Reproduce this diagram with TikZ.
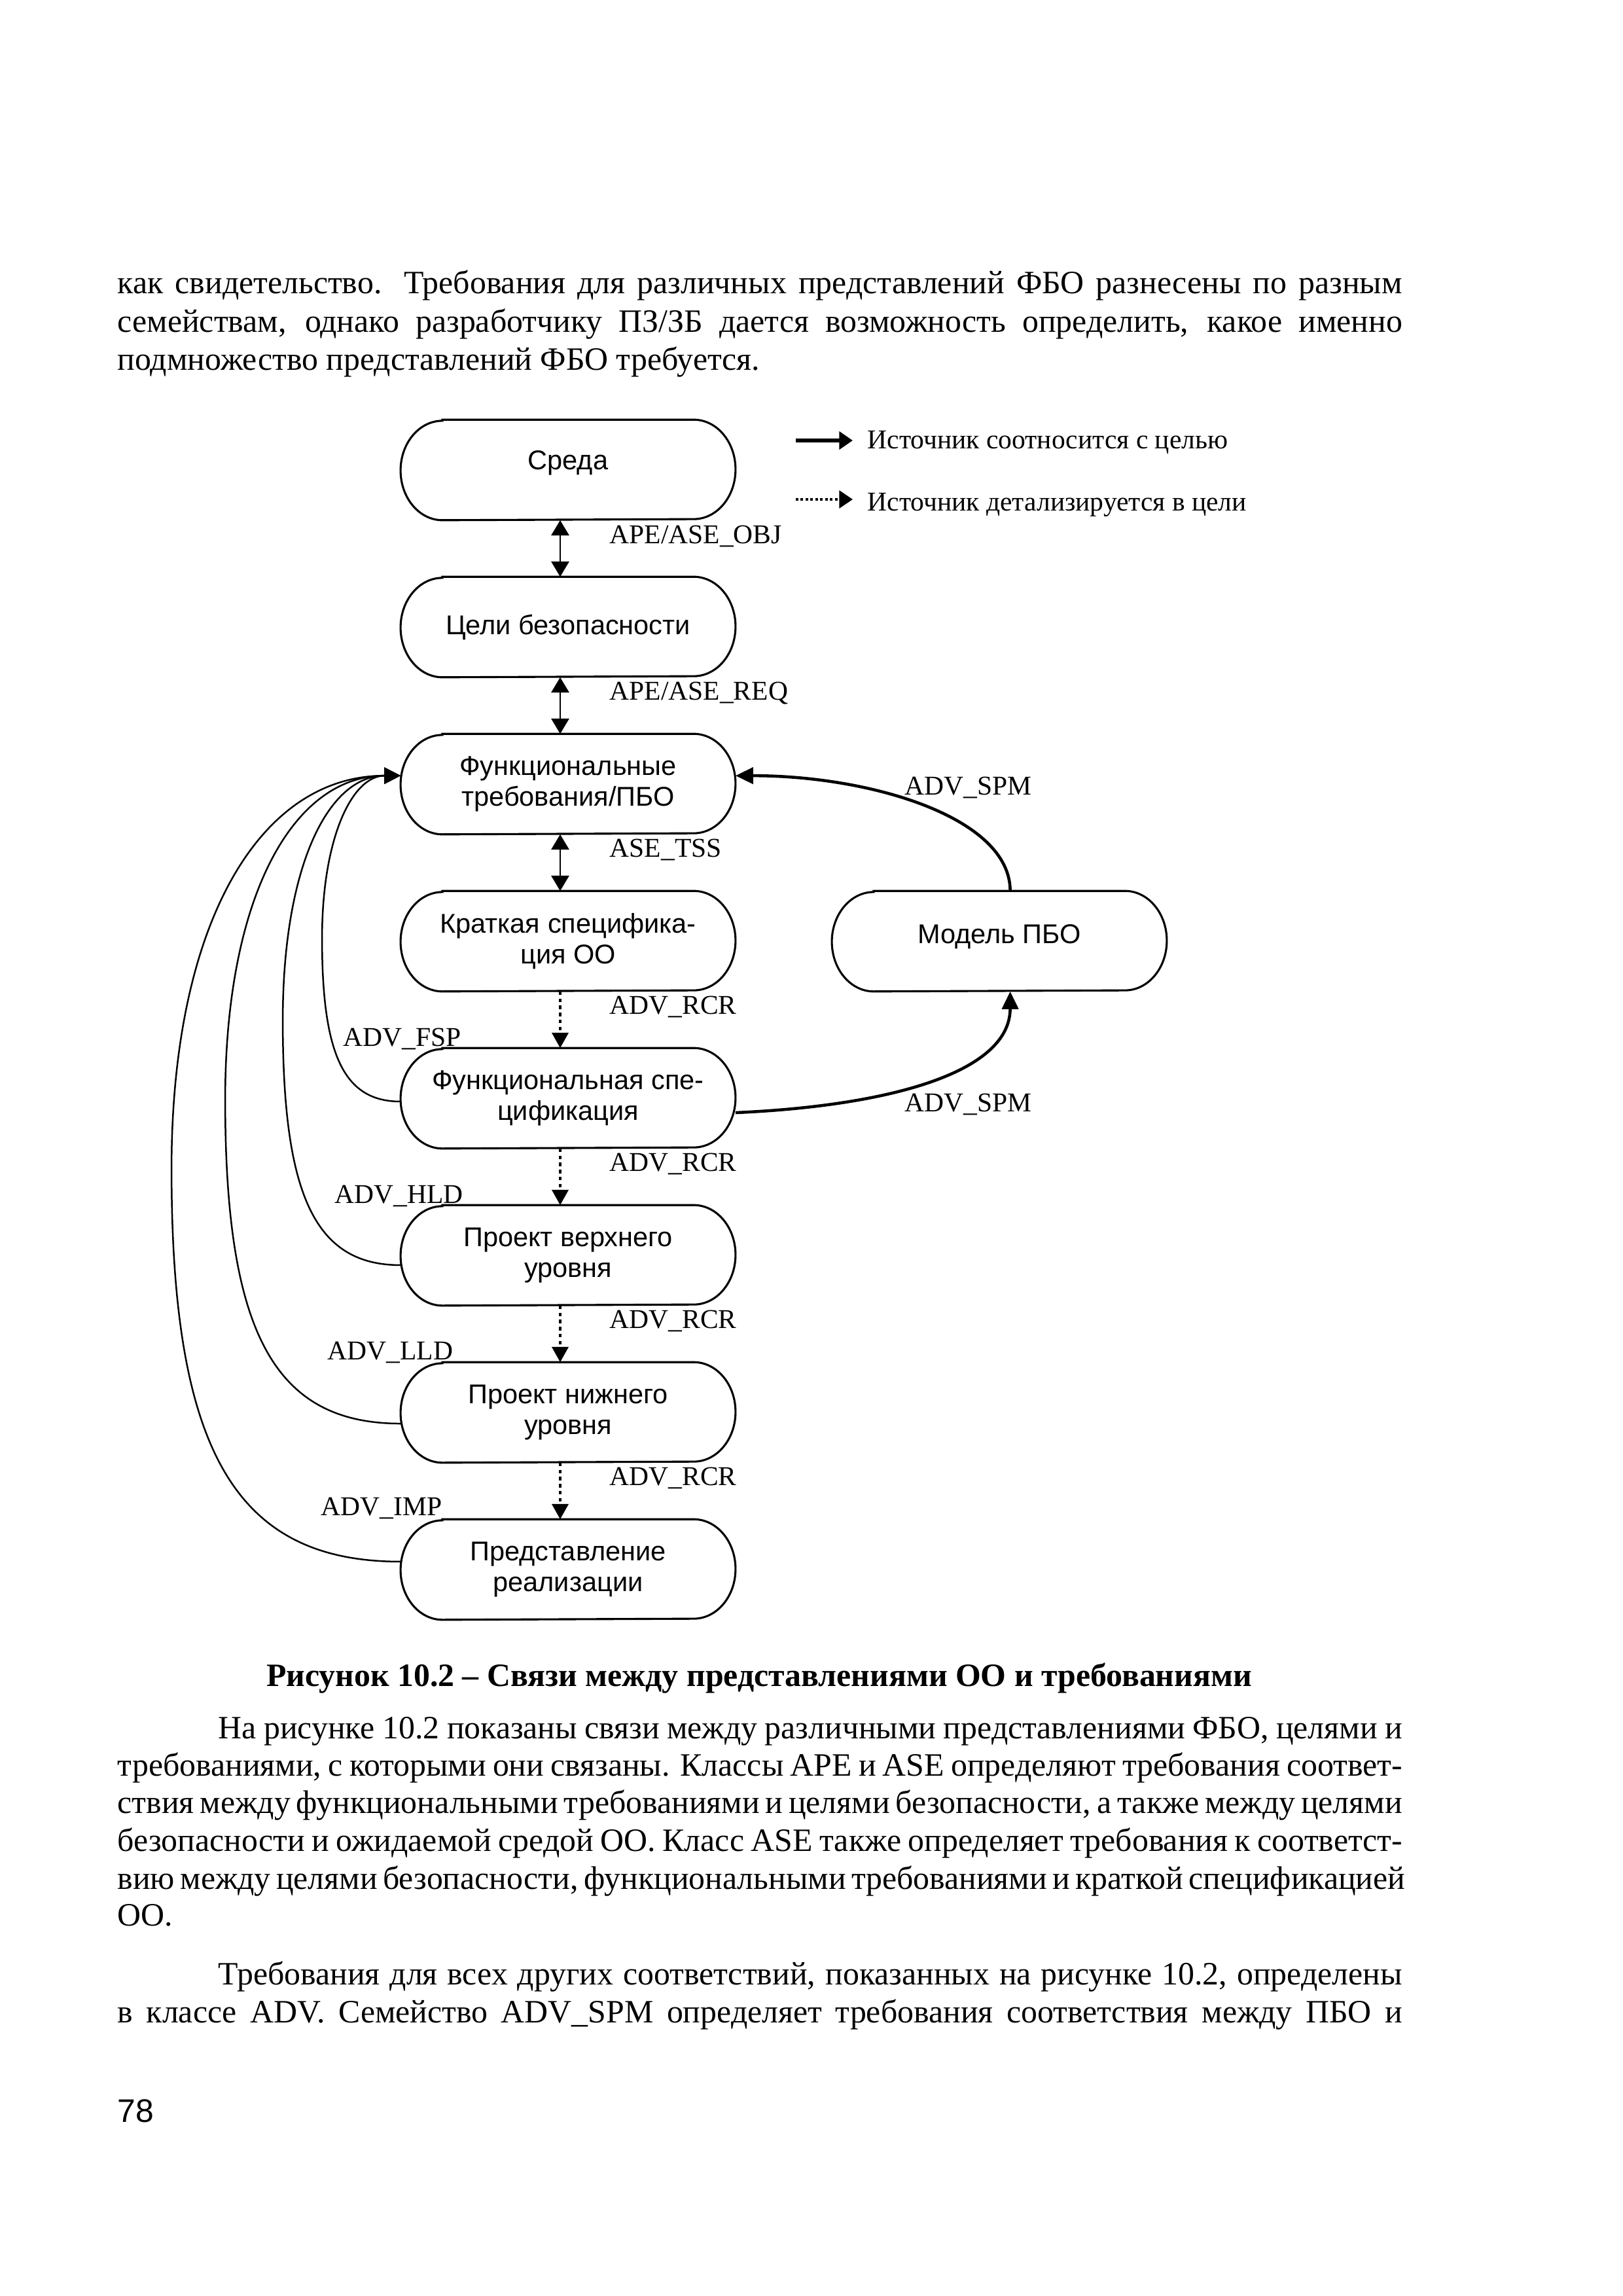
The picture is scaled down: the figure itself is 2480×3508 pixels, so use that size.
\documentclass[tikz,border=0pt]{standalone}
\usepackage{fontspec}
\setmainfont{Liberation Serif}
\setsansfont{Liberation Sans}
\usetikzlibrary{arrows.meta,calc}
\newcommand{\drawstad}[1]{\draw[boxline] ([xshift=15.4pt]#1.north west) -- ([xshift=-15.4pt]#1.north east) arc[start angle=90,end angle=-90,x radius=15.4pt,y radius=18.3pt] -- ([xshift=15.4pt]#1.south west) arc[start angle=270,end angle=90,x radius=15.4pt,y radius=18.3pt] -- cycle;}
\begin{document}
\begin{tikzpicture}[x=0.2409pt,y=0.2409pt,
  box/.style={minimum width=122.9pt,minimum height=36.6pt,inner sep=0pt,align=center,font=\sffamily\fontsize{10}{11.5}\selectfont},
  lbl/.style={anchor=base west,inner sep=0pt,font=\fontsize{10}{12}\selectfont},
  body/.style={anchor=base west,inner sep=0pt,font=\fontsize{12}{13.8}\selectfont},
  boxline/.style={line width=0.75pt},
  dbl/.style={line width=0.7pt,{Triangle[length=5.6pt,width=6.5pt]}-{Triangle[length=5.6pt,width=6.5pt]}},
  dots/.style={line width=0.9pt,dash pattern=on 1.3pt off 1.3pt,-{Triangle[length=5.6pt,width=6pt]}},
  back/.style={line width=0.6pt,-{Triangle[length=6pt,width=6pt]}},
  spm/.style={line width=1.1pt,-{Triangle[length=6.5pt,width=6pt]}}]
\useasboundingbox (0,0) rectangle (2480,-3508);
\fill[white] (0,0) rectangle (2480,-3508);
% body text top
\node[body] (t1) at (179,-448) {\makebox[472.9pt][s]{как свидетельство. Требования для различных представлений ФБО разнесены по разным}};
\node[body] (t2) at (179,-507) {\makebox[472.9pt][s]{семействам, однако разработчику ПЗ/ЗБ дается возможность определить, какое именно}};
\node[body] (t3) at (179,-565) {подмножество представлений ФБО требуется.};
% boxes
\node[box] (sreda) at (868,-718) {\raisebox{7pt}{Среда}};
\node[box] (celi) at (868,-958) {\raisebox{1.5pt}{Цели безопасности}};
\node[box] (freq) at (868,-1198) {Функциональные\\требования/ПБО};
\node[box] (kratk) at (868,-1438) {Краткая специфика-\\ция ОО};
\node[box] (fspec) at (868,-1678) {Функциональная спе-\\цификация};
\node[box] (hld) at (868,-1918) {Проект верхнего\\уровня};
\node[box] (lld) at (868,-2158) {Проект нижнего\\уровня};
\node[box] (impl) at (868,-2398) {Представление\\реализации};
\node[box] (model) at (1527,-1438) {\raisebox{5.5pt}{Модель ПБО}};
\foreach \n in {sreda,celi,freq,kratk,fspec,hld,lld,impl,model} {\drawstad{\n}}
% vertical connectors
\draw[dbl] ([xshift=-2.9pt]sreda.south) -- ([xshift=-2.9pt]celi.north);
\draw[dbl] ([xshift=-2.9pt]celi.south) -- ([xshift=-2.9pt]freq.north);
\draw[dbl] ([xshift=-2.9pt]freq.south) -- ([xshift=-2.9pt]kratk.north);
\draw[dots] ([xshift=-2.9pt]kratk.south) -- ([xshift=-2.9pt]fspec.north);
\draw[dots] ([xshift=-2.9pt]fspec.south) -- ([xshift=-2.9pt]hld.north);
\draw[dots] ([xshift=-2.9pt]hld.south) -- ([xshift=-2.9pt]lld.north);
\draw[dots] ([xshift=-2.9pt]lld.south) -- ([xshift=-2.9pt]impl.north);
% labels
\node[lbl] (l1) at (931,-830) {APE/ASE\_OBJ};
\node[lbl] (l2) at (931,-1069) {APE/ASE\_REQ};
\node[lbl] (l3) at (931,-1309) {ASE\_TSS};
\node[lbl] (l4) at (931,-1549) {ADV\_RCR};
\node[lbl] (l5) at (931,-1789) {ADV\_RCR};
\node[lbl] (l6) at (931,-2029) {ADV\_RCR};
\node[lbl] (l7) at (931,-2269) {ADV\_RCR};
\node[lbl] (lf) at (524,-1598) {ADV\_FSP};
\node[lbl] (lh) at (511,-1838) {ADV\_HLD};
\node[lbl] (ll) at (500,-2077) {ADV\_LLD};
\node[lbl] (li) at (490,-2315) {ADV\_IMP};
\node[lbl] (ls1) at (1382,-1214) {ADV\_SPM};
\node[lbl] (ls2) at (1382,-1698) {ADV\_SPM};
% left curves (end points and turning points derived from the nodes)
\coordinate (T) at ([yshift=3.1pt]freq.west);
\coordinate (sF) at ([yshift=-1.2pt]fspec.west);
\coordinate (sH) at ([yshift=-3.6pt]hld.west);
\coordinate (sL) at ([yshift=-4.1pt]lld.west);
\coordinate (sI) at ([yshift=2.9pt]impl.west);
\coordinate (mF) at ($(sF)!0.5!(T)+(-120,0)$);
\coordinate (mH) at ($(sH)!0.5!(T)+(-180,0)$);
\coordinate (mL) at ($(sL)!0.5!(T)+(-268,0)$);
\coordinate (mI) at ($(sI)!0.5!(T)+(-350,0)$);
\draw[back] (sF) .. controls +(-86,0) and +(0,-179) .. (mF) .. controls +(0,154) and +(-74,0) .. (T);
\draw[back] (sH) .. controls +(-130,0) and +(0,-269) .. (mH) .. controls +(0,232) and +(-112,0) .. (T);
\draw[back] (sL) .. controls +(-193,0) and +(0,-356) .. (mL) .. controls +(0,307) and +(-166,0) .. (T);
\draw[back] (sI) .. controls +(-252,0) and +(0,-432) .. (mI) .. controls +(0,372) and +(-217,0) .. (T);
% ADV_SPM curves
\draw[spm] ([yshift=-5.3pt]fspec.east) .. controls +(228,10) and +(0,-126) .. ([xshift=4pt]model.south);
\draw[spm] ([xshift=4pt]model.north) .. controls +(0,112) and +(207,0) .. ([yshift=3.1pt]freq.east);
% legend
\coordinate (g1a) at (1216,-673);
\coordinate (g1b) at (1303,-673);
\coordinate (g2a) at (1216,-763);
\coordinate (g2b) at (1303,-763);
\draw[line width=1.3pt,-{Triangle[length=5pt,width=6.5pt]}] (g1a) -- (g1b);
\draw[line width=0.9pt,dash pattern=on 0.9pt off 0.9pt,-{Triangle[length=5pt,width=6.5pt]}] (g2a) -- (g2b);
\node[lbl] (g1t) at (1325,-685) {Источник соотносится с целью};
\node[lbl] (g2t) at (1325,-780) {Источник детализируется в цели};
% caption
\node[anchor=base,inner sep=0pt,font=\bfseries\fontsize{12}{13.8}\selectfont] (cap) at (1160,-2576) {Рисунок 10.2 – Связи между представлениями ОО и требованиями};
% paragraph 2
\node[body] (p1) at (333,-2656) {\makebox[435.8pt][s]{На рисунке 10.2 показаны связи между различными представлениями ФБО, целями и}};
\node[body] (p2) at (179,-2713) {\makebox[472.9pt][s]{требованиями, с которыми они связаны. Классы APE и ASE определяют требования соответ-}};
\node[body] (p3) at (179,-2770) {\makebox[472.9pt][s]{ствия между функциональными требованиями и целями безопасности, а также между целями}};
\node[body] (p4) at (179,-2828) {\makebox[472.9pt][s]{безопасности и ожидаемой средой ОО. Класс ASE также определяет требования к соответст-}};
\node[body] (p5) at (179,-2886) {\makebox[472.9pt][s]{вию между целями безопасности, функциональными требованиями и краткой спецификацией}};
\node[body] (p6) at (179,-2942) {ОО.};
% paragraph 3
\node[body] (q1) at (333,-3032) {\makebox[435.8pt][s]{Требования для всех других соответствий, показанных на рисунке 10.2, определены}};
\node[body] (q2) at (179,-3090) {\makebox[472.9pt][s]{в классе ADV. Семейство ADV\_SPM определяет требования соответствия между ПБО и}};
% page number
\node[anchor=base west,inner sep=0pt,font=\sffamily\fontsize{12}{14}\selectfont] (pg) at (179,-3242) {78};
\end{tikzpicture}
\end{document}
